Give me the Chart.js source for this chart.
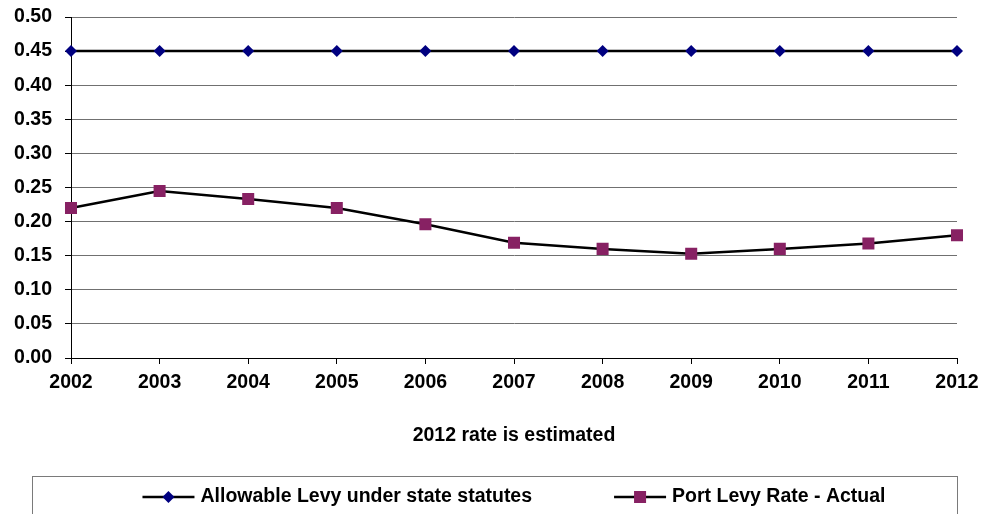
<!DOCTYPE html>
<html>
<head>
<meta charset="utf-8">
<title>Port Levy Rate</title>
<script src="https://cdn.jsdelivr.net/npm/chart.js@4/dist/chart.umd.min.js"></script>
<style>
  html, body { margin: 0; padding: 0; background: #ffffff; }
  #wrap { width: 989px; height: 514px; position: relative; }
</style>
</head>
<body>
<div id="wrap"><canvas id="levyChart"></canvas></div>
<script>
// Levy rates by year
const years = ['2002', '2003', '2004', '2005', '2006', '2007', '2008', '2009', '2010', '2011', '2012'];
const allowableLevy = [0.45, 0.45, 0.45, 0.45, 0.45, 0.45, 0.45, 0.45, 0.45, 0.45, 0.45];
const actualLevy = [0.22, 0.245, 0.233, 0.22, 0.196, 0.169, 0.16, 0.153, 0.16, 0.168, 0.18];
const seriesNames = ['Allowable Levy under state statutes', 'Port Levy Rate - Actual'];
const yAxisMin = 0;
const yAxisMax = 0.5;
const yAxisStep = 0.05;
const footnote = '2012 rate is estimated';

const FONT_FAMILY = '"Liberation Sans", Arial, Helvetica, sans-serif';
const FONT_SIZE = 19.5;

function drawMarker(ctx, style, radius, x, y) {
  if (Chart.helpers && Chart.helpers.drawPoint) {
    Chart.helpers.drawPoint(ctx, { pointStyle: style, radius: radius, rotation: 0, borderWidth: 0 }, x, y);
    return;
  }
  ctx.beginPath();
  if (style === 'rectRot') {
    ctx.moveTo(x, y - radius); ctx.lineTo(x + radius, y);
    ctx.lineTo(x, y + radius); ctx.lineTo(x - radius, y);
  } else {
    const s = radius * Math.SQRT1_2;
    ctx.rect(x - s, y - s, 2 * s, 2 * s);
  }
  ctx.closePath();
  ctx.fill();
}

// Footnote under the category axis and the boxed legend along the bottom
const footerPlugin = {
  id: 'footerPlugin',
  afterDraw(chart) {
    const ctx = chart.ctx;
    const area = chart.chartArea;
    const cx = (area.left + area.right) / 2;
    ctx.save();
    ctx.font = 'bold ' + FONT_SIZE + 'px ' + FONT_FAMILY;
    ctx.fillStyle = '#000000';
    ctx.textAlign = 'center';
    ctx.textBaseline = 'middle';
    ctx.fillText(footnote, cx, 436);

    // legend frame, centred on the whole chart
    const frameRight = area.right;
    const frameLeft = chart.width - frameRight;
    ctx.strokeStyle = '#7a7a7a';
    ctx.lineWidth = 1;
    ctx.strokeRect(Math.round(frameLeft) + 0.5, 476.5, frameRight - frameLeft, 60);

    const lineLen = 52, textGap = 6, itemGap = 82;
    const items = chart.data.datasets.map(ds => ({ ds: ds, w: ctx.measureText(ds.label).width }));
    const total = items.reduce((s, it) => s + lineLen + textGap + it.w, 0) + itemGap * (items.length - 1);
    let x = cx - total / 2;
    const y = 497;
    ctx.textAlign = 'left';
    items.forEach(it => {
      ctx.strokeStyle = it.ds.borderColor;
      ctx.lineWidth = it.ds.borderWidth;
      ctx.beginPath();
      ctx.moveTo(x, y);
      ctx.lineTo(x + lineLen, y);
      ctx.stroke();
      ctx.fillStyle = it.ds.pointBackgroundColor;
      drawMarker(ctx, it.ds.pointStyle, it.ds.pointRadius, x + lineLen / 2, y);
      ctx.fillStyle = '#000000';
      ctx.fillText(it.ds.label, x + lineLen + textGap, y);
      x += lineLen + textGap + it.w + itemGap;
    });
    ctx.restore();
  }
};

new Chart(document.getElementById('levyChart'), {
  type: 'line',
  data: {
    labels: years,
    datasets: [
      {
        label: seriesNames[0],
        data: allowableLevy,
        borderColor: '#000000',
        borderWidth: 2.5,
        pointStyle: 'rectRot',
        pointRadius: 6,
        pointHoverRadius: 6,
        pointBackgroundColor: '#000080',
        pointBorderColor: '#000080',
        pointBorderWidth: 0,
        tension: 0,
        fill: false
      },
      {
        label: seriesNames[1],
        data: actualLevy,
        borderColor: '#000000',
        borderWidth: 2.5,
        pointStyle: 'rect',
        pointRadius: 8.5,
        pointHoverRadius: 8.5,
        pointBackgroundColor: '#872163',
        pointBorderColor: '#872163',
        pointBorderWidth: 0,
        tension: 0,
        fill: false
      }
    ]
  },
  options: {
    responsive: true,
    maintainAspectRatio: false,
    animation: false,
    events: [],
    layout: { padding: { top: 17, right: 32, left: 0, bottom: 0 } },
    plugins: {
      legend: { display: false },
      tooltip: { enabled: false },
      title: { display: false }
    },
    scales: {
      x: {
        type: 'category',
        offset: false,
        grid: {
          display: true,
          drawOnChartArea: false,
          drawTicks: true,
          tickLength: 6,
          tickColor: '#000000',
          tickWidth: 1
        },
        border: { display: true, color: '#000000', width: 1 },
        ticks: {
          color: '#000000',
          padding: 7,
          maxRotation: 0,
          autoSkip: false,
          font: { family: FONT_FAMILY, size: FONT_SIZE, weight: 'bold' }
        },
        afterFit(scale) { scale.height = 156; }
      },
      y: {
        min: yAxisMin,
        max: yAxisMax,
        grid: {
          color: '#707070',
          lineWidth: 1,
          drawTicks: true,
          tickLength: 6,
          tickColor: '#000000'
        },
        border: { display: true, color: '#000000', width: 1 },
        ticks: {
          stepSize: yAxisStep,
          color: '#000000',
          padding: 13,
          font: { family: FONT_FAMILY, size: FONT_SIZE, weight: 'bold' },
          callback: v => Number(v).toFixed(2)
        },
        afterFit(scale) {
          scale.width = 71;
          scale.paddingTop = 0;
          scale.paddingBottom = 0;
        }
      }
    }
  },
  plugins: [footerPlugin]
});
</script>
</body>
</html>
